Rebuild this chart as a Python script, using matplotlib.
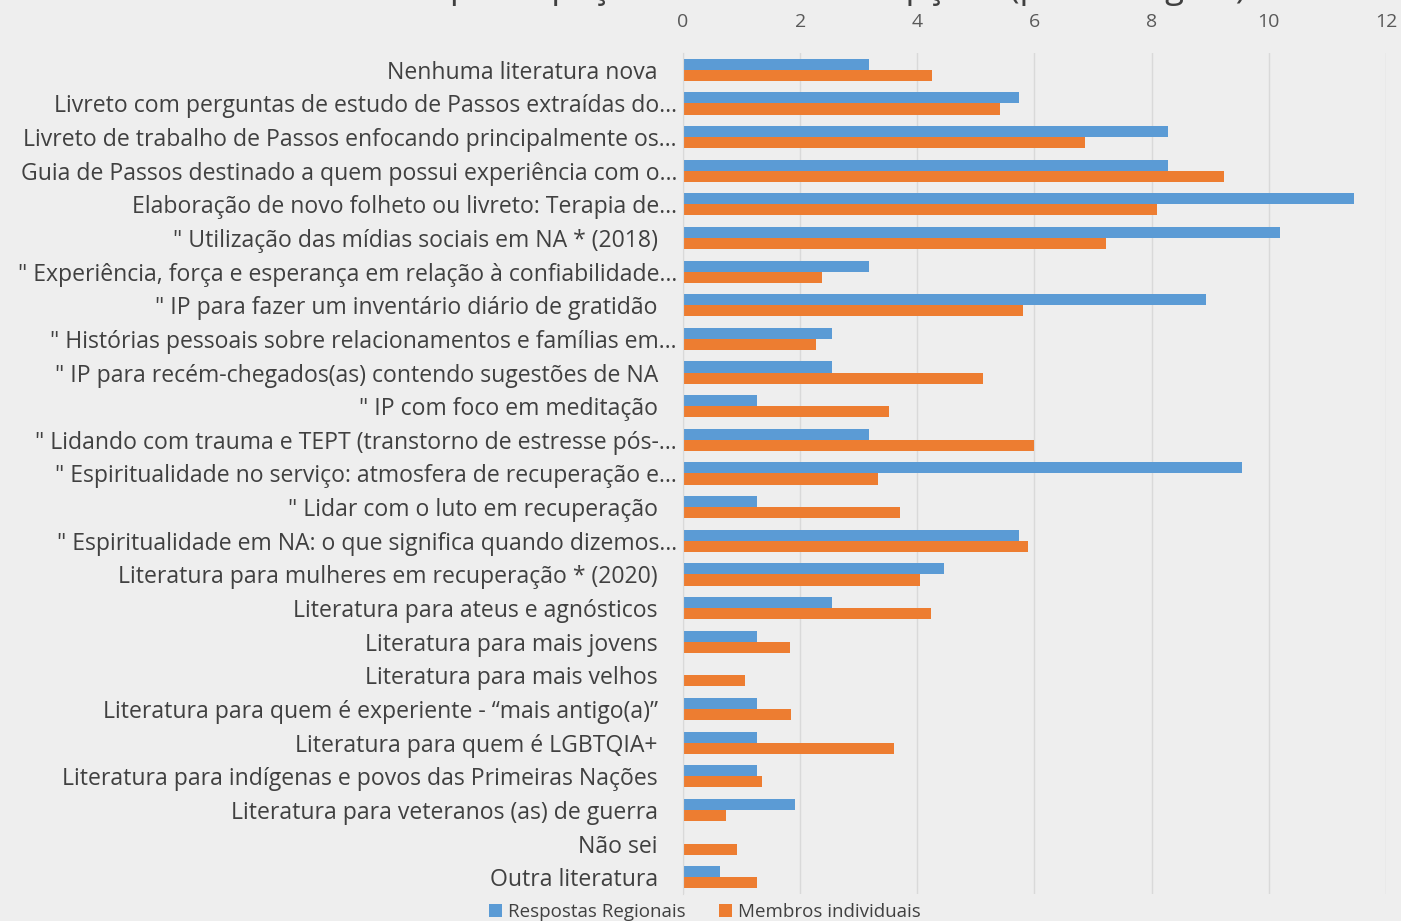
import matplotlib.pyplot as plt
import matplotlib.transforms as mtransforms
import numpy as np

plt.rcParams["font.family"] = ["Open Sans", "DejaVu Sans"]

categories = [
    "Nenhuma literatura nova",
    "Livreto com perguntas de estudo de Passos extraídas do…",
    "Livreto de trabalho de Passos enfocando principalmente os…",
    "Guia de Passos destinado a quem possui experiência com o…",
    "Elaboração de novo folheto ou livreto: Terapia de…",
    "\" Utilização das mídias sociais em NA * (2018)",
    "\" Experiência, força e esperança em relação à confiabilidade…",
    "\" IP para fazer um inventário diário de gratidão",
    "\" Histórias pessoais sobre relacionamentos e famílias em…",
    "\" IP para recém-chegados(as) contendo sugestões de NA",
    "\" IP com foco em meditação",
    "\" Lidando com trauma e TEPT (transtorno de estresse pós-…",
    "\" Espiritualidade no serviço: atmosfera de recuperação e…",
    "\" Lidar com o luto em recuperação",
    "\" Espiritualidade em NA: o que significa quando dizemos…",
    "Literatura para mulheres em recuperação * (2020)",
    "Literatura para ateus e agnósticos",
    "Literatura para mais jovens",
    "Literatura para mais velhos",
    "Literatura para quem é experiente - “mais antigo(a)”",
    "Literatura para quem é LGBTQIA+",
    "Literatura para indígenas e povos das Primeiras Nações",
    "Literatura para veteranos (as) de guerra",
    "Não sei",
    "Outra literatura",
]

regionais = [3.18, 5.73, 8.28, 8.28, 11.46, 10.19, 3.18, 8.92, 2.55, 2.55,
             1.27, 3.18, 9.55, 1.27, 5.73, 4.46, 2.55, 1.27, 0.0, 1.27,
             1.27, 1.27, 1.91, 0.0, 0.64]
individuais = [4.25, 5.41, 6.86, 9.24, 8.09, 7.22, 2.37, 5.80, 2.27, 5.12,
               3.52, 5.99, 3.33, 3.70, 5.89, 4.05, 4.23, 1.83, 1.06, 1.84,
               3.60, 1.35, 0.73, 0.92, 1.27]

series_names = ["Respostas Regionais", "Membros individuais"]
title = "Percentual de participação nessa lista de opções (porcentagem)"

bg = "#eeeeee"
blue = "#5b9bd5"
orange = "#ed7d31"
text_col = "#404040"

fig = plt.figure(figsize=(14.01, 9.21), dpi=100, facecolor=bg)
ax = fig.add_axes([0.4875, 0.0293, 0.5018, 0.9132], facecolor=bg)

y = np.arange(len(categories))
h = 0.33
ax.barh(y - h / 2, regionais, height=h, color=blue, label=series_names[0])
ax.barh(y + h / 2, individuais, height=h, color=orange, label=series_names[1])

ax.set_xlim(0, 12)
ax.set_ylim(len(categories) - 0.5, -0.5)
ax.set_xticks(np.arange(0, 13, 2))
ax.xaxis.tick_top()
ax.tick_params(axis="x", length=0, labelsize=14, colors="#595959", pad=16)
ax.tick_params(axis="y", length=0, labelsize=16.6, colors=text_col, pad=18)
ax.set_yticks(y)
ax.set_yticklabels(categories)
# truncated labels run a bit further right, as in the original
shift = mtransforms.ScaledTranslation(19 / 100, 0, fig.dpi_scale_trans)
for lab in ax.get_yticklabels():
    if lab.get_text().endswith("…"):
        lab.set_transform(lab.get_transform() + shift)
ax.grid(axis="x", color="#d9d9d9", linewidth=1)
ax.set_axisbelow(True)
for s in ["top", "right", "bottom"]:
    ax.spines[s].set_visible(False)
ax.spines["left"].set_color("#d9d9d9")

# title sits mostly above the top edge, only its bottom shows
fig.text(732 / 1401, 1 + 2 / 921, title, ha="center", va="baseline",
         fontsize=25, color=text_col)

fig.legend(loc="center", bbox_to_anchor=(705 / 1401, 1 - 912 / 921), ncol=2,
           frameon=False, fontsize=13.5, handlelength=0.7, handleheight=0.7,
           columnspacing=1.8, handletextpad=0.3, labelcolor=text_col)

fig.savefig("out.png", dpi=100, facecolor=bg)
